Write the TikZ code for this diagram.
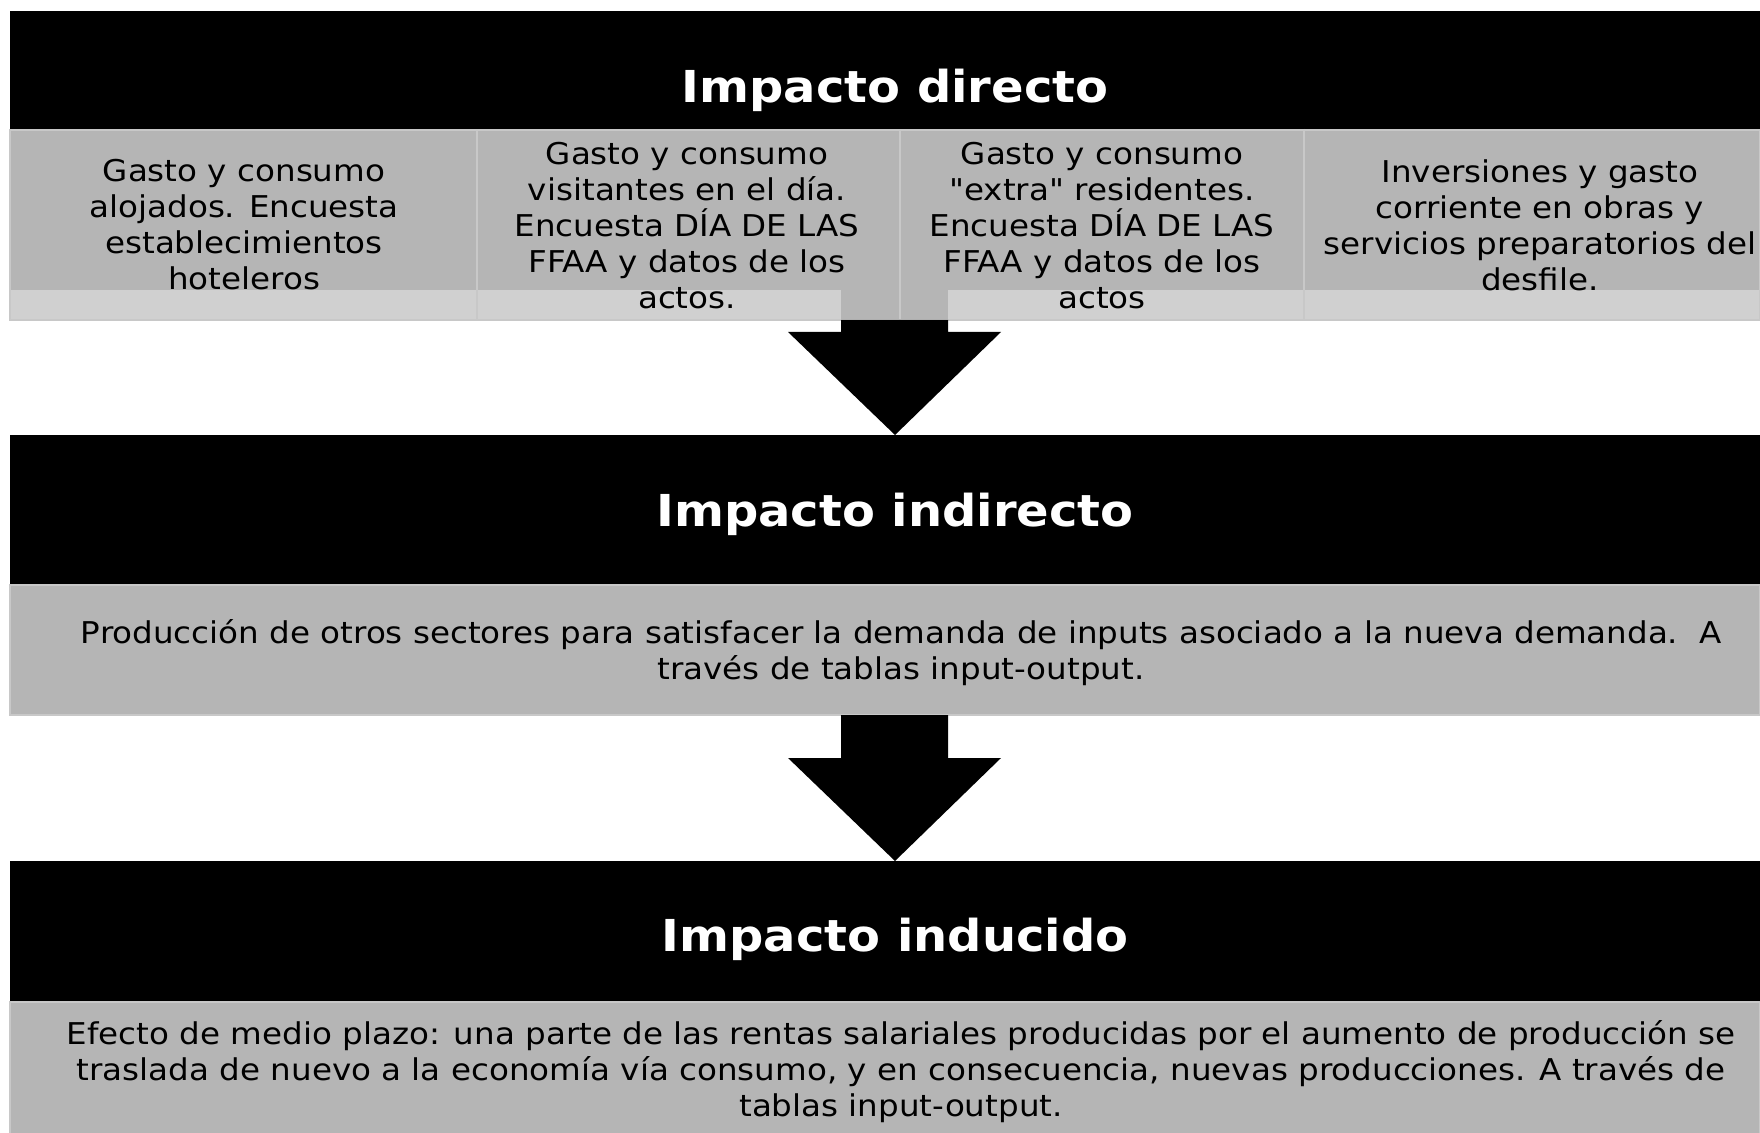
\documentclass[tikz,border=0pt]{standalone}
\usepackage{fontspec}
\setmainfont{DejaVu Sans}[Ligatures=TeXOff, FakeStretch=1.085]
\newfontfamily\titlefont{DejaVu Sans}[Ligatures=TeXOff, FakeStretch=1.09]
\definecolor{cellgray}{HTML}{B5B5B5}
\definecolor{bandgray}{HTML}{D0D0D0}
\definecolor{edgegray}{HTML}{C8C8C8}
\tikzset{
  titletext/.style={text=white, font=\titlefont\fontsize{22}{26}\selectfont\bfseries, inner sep=0pt},
  bodytext/.style={text=black, font=\fontsize{15}{18}\selectfont, align=center, inner sep=0pt},
  blackbar/.style={fill=black},
  cellfill/.style={fill=cellgray, draw=edgegray, line width=0.8pt},
  bandfill/.style={fill=bandgray},
  divline/.style={draw=edgegray, line width=1pt},
  blockarrow/.style={fill=black}
}
\begin{document}
\begin{tikzpicture}[x=0.5pt,y=-0.5pt]
\useasboundingbox (0,0) rectangle (1760,1133);
\fill[white] (0,0) rectangle (1760,1133);

% ---- level 1
\fill[blackbar] (10,11) rectangle (1760,130);
\node[titletext] (t1) at (895,90) {Impacto directo};
\path[cellfill] (10,130) rectangle (1760,320);
\fill[bandfill] (10,290) rectangle (841,320);
\fill[bandfill] (948,290) rectangle (1760,320);
\draw[divline] (477,130) -- (477,320);
\draw[divline] (900,130) -- (900,320);
\draw[divline] (1304,129) -- (1304,321);
\draw[edgegray, line width=0.8pt] (10,130) rectangle (1760,320);

\node[bodytext] (c1) at (244,225) {Gasto y consumo\\alojados. Encuesta\\establecimientos\\hoteleros};
\node[bodytext] (c2) at (687,226) {Gasto y consumo\\visitantes en el día.\\Encuesta DÍA DE LAS\\FFAA y datos de los\\actos.};
\node[bodytext] (c3) at (1102,226) {Gasto y consumo\\"extra" residentes.\\Encuesta DÍA DE LAS\\FFAA y datos de los\\actos};
\node[bodytext] (c4) at (1540,225) {Inversiones y gasto\\corriente en obras y\\servicios preparatorios del\\desfile.};

% ---- arrow 1
\fill[blockarrow] (841,320) -- (841,332) -- (788,332) -- (895,435) -- (1001,332) -- (948,332) -- (948,320) -- cycle;

% ---- level 2
\fill[blackbar] (10,435) rectangle (1760,585);
\node[titletext] (t2) at (895,514) {Impacto indirecto};
\path[cellfill] (10,585) rectangle (1760,715);
\node[bodytext] (b2) at (901,653) {Producción de otros sectores para satisfacer la demanda de inputs asociado a la nueva demanda.\ \ A\\través de tablas input-output.};

% ---- arrow 2
\fill[blockarrow] (841,715) -- (841,758) -- (788,758) -- (895,861) -- (1001,758) -- (948,758) -- (948,715) -- cycle;

% ---- level 3
\fill[blackbar] (10,861) rectangle (1760,1002);
\node[titletext] (t3) at (895,939) {Impacto inducido};
\path[cellfill] (10,1002) rectangle (1760,1140);
\node[bodytext] (b3) at (901,1072) {Efecto de medio plazo: una parte de las rentas salariales producidas por el aumento de producción se\\traslada de nuevo a la economía vía consumo, y en consecuencia, nuevas producciones. A través de\\tablas input-output.};
\end{tikzpicture}
\end{document}
